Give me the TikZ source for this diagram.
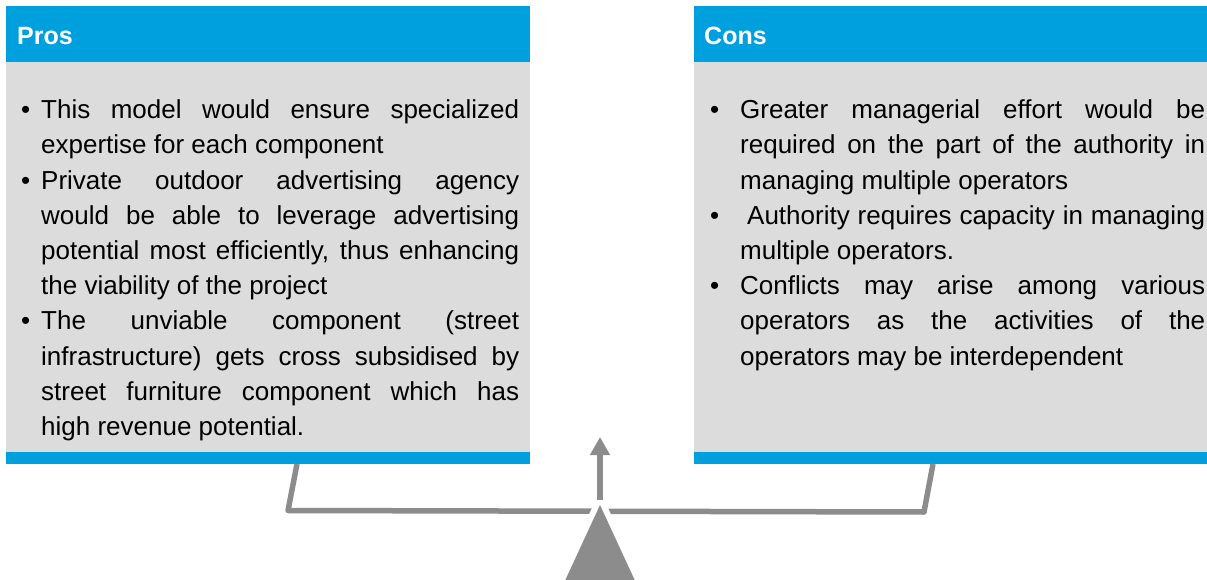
\documentclass[tikz,border=0pt]{standalone}
\usepackage{fontspec}
\setmainfont{Liberation Sans}
\usetikzlibrary{arrows.meta}
\definecolor{hdrblue}{RGB}{0,160,223}
\definecolor{bodygray}{RGB}{220,220,220}
\definecolor{balgray}{RGB}{140,140,140}
\newcommand{\proitem}[1]{\par\noindent\hangindent=20pt\hangafter=1\makebox[20pt][l]{\strut•}#1}
\newcommand{\conitem}[1]{\par\noindent\hangindent=30pt\hangafter=1\makebox[30pt][l]{\strut•}#1}
\begin{document}
\begin{tikzpicture}[x=1pt,y=-1pt,
  hdrtext/.style={anchor=base west, inner sep=0, text=white, font=\fontsize{25}{30}\selectfont\bfseries},
  bodytext/.style={anchor=north west, inner sep=0, align=justify, font=\fontsize{26}{35.2}\selectfont},
  beam/.style={draw=balgray, line width=5.5pt, line join=round}]
\useasboundingbox (0,0) rectangle (1207,580);
\clip (0,0) rectangle (1207,580);
% Pros panel
\fill[hdrblue] (6,6) rectangle (529.5,62.5);
\fill[bodygray] (6,62.5) rectangle (529.5,452);
\fill[hdrblue] (6,452) rectangle (529.5,464);
\node[hdrtext] (prostitle) at (17,45) {Pros};
\node[bodytext, text width=498pt] (prostext) at (21,83.36) {%
\proitem{This model would ensure specialized\linebreak expertise for each component}
\proitem{Private outdoor advertising agency\linebreak would be able to leverage advertising\linebreak potential most efficiently, thus enhancing\linebreak the viability of the project}
\proitem{The unviable component (street\linebreak infrastructure) gets cross subsidised by\linebreak street furniture component which has\linebreak high revenue potential.}\par};
% Cons panel
\fill[hdrblue] (693.5,6) rectangle (1207,62.5);
\fill[bodygray] (693.5,62.5) rectangle (1207,452);
\fill[hdrblue] (693.5,452) rectangle (1207,464);
\node[hdrtext] (constitle) at (704,45) {Cons};
\node[bodytext, text width=495pt] (constext) at (710,83.36) {%
\conitem{Greater managerial effort would be\linebreak required on the part of the authority in\linebreak managing multiple operators}
\conitem{\hspace{7pt}Authority requires capacity in managing\linebreak multiple operators.}
\conitem{Conflicts may arise among various\linebreak operators as the activities of the\linebreak operators may be interdependent}\par};
% Balance
\coordinate (lhtop) at (297,464);
\coordinate (lhbot) at (288,510.5);
\coordinate (rhbot) at (924,512);
\coordinate (rhtop) at (933,464);
\draw[beam] (lhtop) -- (lhbot) -- (rhbot) -- (rhtop);
\coordinate (apex) at (600,505);
\coordinate (baseL) at (563,585);
\coordinate (baseR) at (637,585);
\filldraw[white, line width=12pt, line join=round] (apex) -- (baseL) -- (baseR) -- cycle;
\fill[balgray] (apex) -- (baseL) -- (baseR) -- cycle;
\coordinate (shaftbot) at (600,500);
\coordinate (shafttop) at (600,437);
\draw[balgray, line width=6pt, -{Triangle[width=19pt,length=18pt]}] (shaftbot) -- (shafttop);
\end{tikzpicture}
\end{document}
